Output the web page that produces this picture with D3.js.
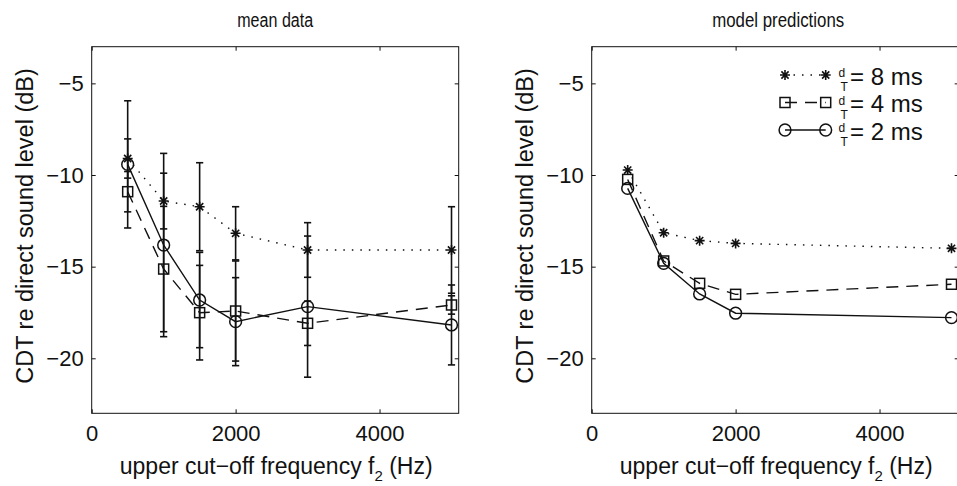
<!DOCTYPE html>
<html><head><meta charset="utf-8">
<script src="https://cdn.jsdelivr.net/npm/d3@7"></script>
<style>
body{margin:0;background:#fff}
text{font-family:"Liberation Sans",Arial,Helvetica,sans-serif;fill:#111}
</style>
</head><body>
<svg id="c" width="957" height="486"></svg>
<script>
// ---- data ----
const freqs = [500, 1000, 1500, 2000, 3000, 5000];
const mean8 = [-9.10, -11.42, -11.73, -13.18, -14.09, -14.09];
const mean4 = [-10.91, -15.13, -17.51, -17.42, -18.09, -17.09];
const mean2 = [-9.42, -13.82, -16.82, -18.00, -17.18, -18.18];
const err8 = [1.07, 1.52, 2.40, 1.45, 1.49, 2.36];
const err4 = [1.10, 3.42, 2.58, 2.73, 1.21, 0.50];
const err2 = [3.47, 5.00, 2.60, 2.40, 3.85, 2.18];
const modelFreqs = [500, 1000, 1500, 2000, 5000];
const model8 = [-9.73, -13.15, -13.58, -13.73, -14.00];
const model4 = [-10.24, -14.69, -15.91, -16.51, -15.96];
const model2 = [-10.73, -14.82, -16.49, -17.54, -17.78];
const xTicks = [0, 2000, 4000];
const yTicks = [-5, -10, -15, -20];
const legendLabels = ["8 ms", "4 ms", "2 ms"];
const titles = ["mean data", "model predictions"];
const xLabel = "upper cut\u2212off frequency f";
const yLabel = "CDT re direct sound level (dB)";

// ---- layout ----
const svg = d3.select("#c");
const plotTop = 46.7, plotH = 366.6, plotW = 367;
const panelX = [91.7, 591.7];
const titleWidths = [76, 132];
const ink = "#111";

const styles = [
  {marker: "star", dash: "1.5,7", width: 1.4},
  {marker: "square", dash: "12,8", width: 1.4},
  {marker: "circle", dash: null, width: 1.4}
];

function drawMarker(g, type, cx, cy) {
  if (type === "circle") {
    g.append("circle").attr("cx", cx).attr("cy", cy).attr("r", 5.9)
      .attr("fill", "none").attr("stroke", ink).attr("stroke-width", 1.5);
  } else if (type === "square") {
    g.append("rect").attr("x", cx - 5).attr("y", cy - 5).attr("width", 10).attr("height", 10)
      .attr("fill", "none").attr("stroke", ink).attr("stroke-width", 1.5);
  } else {
    const a = 5, b = 3.6;
    const p = `M${cx - a},${cy}L${cx + a},${cy}M${cx},${cy - a}L${cx},${cy + a}` +
      `M${cx - b},${cy - b}L${cx + b},${cy + b}M${cx - b},${cy + b}L${cx + b},${cy - b}`;
    g.append("path").attr("d", p).attr("stroke", ink).attr("stroke-width", 1.6).attr("fill", "none");
  }
}

titles.forEach((title, pi) => {
  const x0 = panelX[pi];
  const x = d3.scaleLinear().domain([0, 5100]).range([x0, x0 + plotW]);
  const y = d3.scaleLinear().domain([-23, -3]).range([plotTop + plotH, plotTop]);
  const g = svg.append("g");

  // axes
  const ax = g.append("g").attr("transform", `translate(0,${plotTop + plotH})`)
    .call(d3.axisBottom(x).tickValues(xTicks).tickSize(-4).tickPadding(12).tickFormat(d3.format("d")));
  const ay = g.append("g").attr("transform", `translate(${x0},0)`)
    .call(d3.axisLeft(y).tickValues(yTicks).tickSize(-4).tickPadding(8).tickFormat(d => "\u2212" + Math.abs(d)));
  const at = g.append("g").attr("transform", `translate(0,${plotTop})`)
    .call(d3.axisTop(x).tickValues(xTicks).tickSize(-4).tickFormat(""));
  const ar = g.append("g").attr("transform", `translate(${x0 + plotW},0)`)
    .call(d3.axisRight(y).tickValues(yTicks).tickSize(-4).tickFormat(""));
  [ax, ay, at, ar].forEach(a => {
    a.select(".domain").remove();
    a.selectAll("line").attr("stroke", ink).attr("stroke-width", 1);
    a.selectAll("text").attr("font-size", 22).attr("font-family", "Liberation Sans, Arial, sans-serif").attr("fill", ink);
  });
  g.append("rect").attr("x", x0).attr("y", plotTop).attr("width", plotW).attr("height", plotH)
    .attr("fill", "none").attr("stroke", ink).attr("stroke-width", 1);

  // title
  g.append("text").attr("x", x0 + plotW / 2 + (pi ? 3 : 0)).attr("y", 27).attr("text-anchor", "middle")
    .attr("font-size", 19.5).attr("textLength", titleWidths[pi]).attr("lengthAdjust", "spacingAndGlyphs")
    .text(title);
  // x label with subscript
  const xl = g.append("text").attr("x", x0 + plotW / 2 + 1).attr("y", 474).attr("text-anchor", "middle")
    .attr("font-size", 23);
  xl.append("tspan").text(xLabel);
  xl.append("tspan").attr("font-size", 15).attr("dy", 7).text("2");
  xl.append("tspan").attr("dy", -7).text(" (Hz)");
  // y label
  g.append("text").attr("transform", `translate(${x0 - 58.7},226) rotate(-90)`)
    .attr("text-anchor", "middle").attr("font-size", 23.5).text(yLabel);

  const line = d3.line().x(d => x(d[0])).y(d => y(d[1]));

  if (pi === 0) {
    const means = [mean8, mean4, mean2];
    const errs = [err8, err4, err2];
    // error bars
    means.forEach((m, si) => {
      freqs.forEach((f, i) => {
        const cx = x(f), lo = y(m[i] - errs[si][i]), hi = y(m[i] + errs[si][i]);
        g.append("line").attr("x1", cx).attr("x2", cx).attr("y1", lo).attr("y2", hi)
          .attr("stroke", ink).attr("stroke-width", 1.6);
        [lo, hi].forEach(yy => g.append("line").attr("x1", cx - 3.6).attr("x2", cx + 3.6)
          .attr("y1", yy).attr("y2", yy).attr("stroke", ink).attr("stroke-width", 1.6));
      });
    });
    means.forEach((m, si) => {
      const st = styles[si];
      g.append("path").attr("d", line(freqs.map((f, i) => [f, m[i]])))
        .attr("fill", "none").attr("stroke", ink).attr("stroke-width", st.width)
        .attr("stroke-dasharray", st.dash);
      freqs.forEach((f, i) => drawMarker(g, st.marker, x(f), y(m[i])));
    });
  } else {
    const models = [model8, model4, model2];
    models.forEach((m, si) => {
      const st = styles[si];
      g.append("path").attr("d", line(modelFreqs.map((f, i) => [f, m[i]])))
        .attr("fill", "none").attr("stroke", ink).attr("stroke-width", st.width)
        .attr("stroke-dasharray", st.dash);
      modelFreqs.forEach((f, i) => drawMarker(g, st.marker, x(f), y(m[i])));
    });
    // legend
    legendLabels.forEach((lab, si) => {
      const st = styles[si];
      const ry = 75 + si * 27.5;
      g.append("line").attr("x1", 785).attr("x2", 825.7).attr("y1", ry).attr("y2", ry)
        .attr("stroke", ink).attr("stroke-width", st.width).attr("stroke-dasharray", st.dash);
      drawMarker(g, st.marker, 785, ry);
      drawMarker(g, st.marker, 825.7, ry);
      g.append("text").attr("x", 838.5).attr("y", ry + 2).attr("font-size", 12).text("d");
      g.append("text").attr("x", 840.5).attr("y", ry + 16).attr("font-size", 12).text("T");
      g.append("text").attr("x", 850).attr("y", ry + 9.5).attr("font-size", 24).text("= " + lab);
    });
  }
});
</script>
</body></html>
